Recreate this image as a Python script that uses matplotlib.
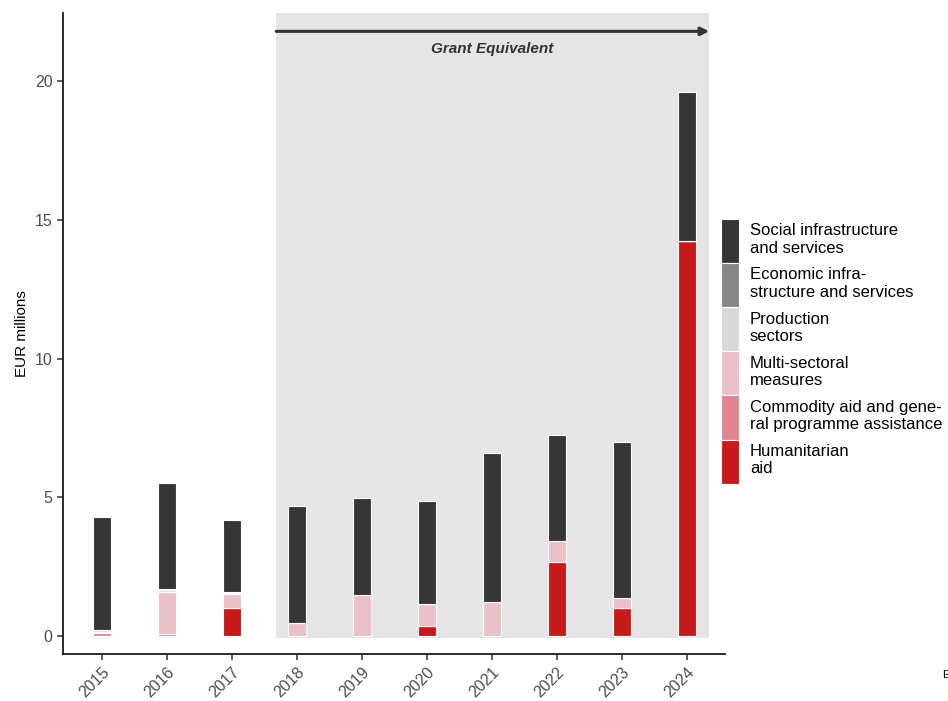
import matplotlib.pyplot as plt
import matplotlib.patches as mpatches
import numpy as np

plt.rcParams['font.family'] = ['Liberation Sans', 'DejaVu Sans']

years = ['2015', '2016', '2017', '2018', '2019', '2020', '2021', '2022', '2023', '2024']

# EUR millions, stacked bottom -> top
humanitarian = [0.00, 0.00, 1.00, 0.00, 0.00, 0.37, 0.00, 2.67, 1.00, 14.23]
commodity    = [0.12, 0.08, 0.00, 0.00, 0.00, 0.00, 0.00, 0.00, 0.00, 0.00]
multisector  = [0.03, 1.50, 0.50, 0.48, 1.48, 0.77, 1.21, 0.74, 0.36, 0.00]
production   = [0.05, 0.08, 0.06, 0.00, 0.00, 0.00, 0.00, 0.00, 0.00, 0.00]
economic     = [0.00, 0.05, 0.01, 0.00, 0.00, 0.00, 0.00, 0.00, 0.00, 0.00]
social       = [4.08, 3.79, 2.61, 4.20, 3.49, 3.72, 5.38, 3.83, 5.63, 5.37]

series = [
    ('Humanitarian\naid', humanitarian, '#c71b1b'),
    ('Commodity aid and gene-\nral programme assistance', commodity, '#e08591'),
    ('Multi-sectoral\nmeasures', multisector, '#eac1c8'),
    ('Production\nsectors', production, '#d9d9d9'),
    ('Economic infra-\nstructure and services', economic, '#868686'),
    ('Social infrastructure\nand services', social, '#363636'),
]

fig = plt.figure(figsize=(9.48, 7.01), dpi=100)
ax = fig.add_axes([0.0665, 0.067, 0.698, 0.914])

x = np.arange(len(years))

# grant equivalent shaded period
ax.add_patch(mpatches.Rectangle((2.68, -0.06), 9.34 - 2.68, 30, color='#e5e5e5', zorder=0, lw=0))
ax.annotate('', xy=(9.34, 21.8), xytext=(2.68, 21.8),
            arrowprops=dict(arrowstyle='-|>', color='#333333', lw=2.2, mutation_scale=12,
                            shrinkA=0, shrinkB=0))
ax.text(6.0, 21.15, 'Grant Equivalent', ha='center', va='center', fontsize=11,
        fontstyle='italic', fontweight='bold', color='#333333')

bottom = np.zeros(len(years))
handles = []
for label, vals, col in series:
    vals = np.array(vals)
    ax.bar(x, vals, 0.29, bottom=bottom, color=col, edgecolor='white', linewidth=0.8, zorder=2)
    bottom += vals
    handles.append(mpatches.Patch(facecolor=col, edgecolor='white', linewidth=0.8, label=label))

ax.set_xlim(-0.6, 9.58)
ax.set_ylim(-0.65, 22.45)
ax.set_xticks(x)
ax.set_xticklabels(years, rotation=45, ha='right', rotation_mode='anchor')
ax.set_yticks([0, 5, 10, 15, 20])
ax.tick_params(axis='both', labelsize=11.5, labelcolor='#4d4d4d', length=4, width=1.1, color='#333333')
ax.set_ylabel('EUR millions', fontsize=11)
for s in ['top', 'right']:
    ax.spines[s].set_visible(False)
for s in ['left', 'bottom']:
    ax.spines[s].set_linewidth(1.3)
    ax.spines[s].set_color('#1a1a1a')

leg = fig.legend(handles=handles[::-1], loc='center left', bbox_to_anchor=(0.7535, 0.499),
                 frameon=False, fontsize=12, handlelength=1.08, handleheight=3.7,
                 labelspacing=0, handletextpad=0.65, borderaxespad=0)

fig.text(942 / 948, 1 - 675 / 701, 'E', fontsize=8, va='center', ha='left')

fig.savefig('out.png', dpi=100)
